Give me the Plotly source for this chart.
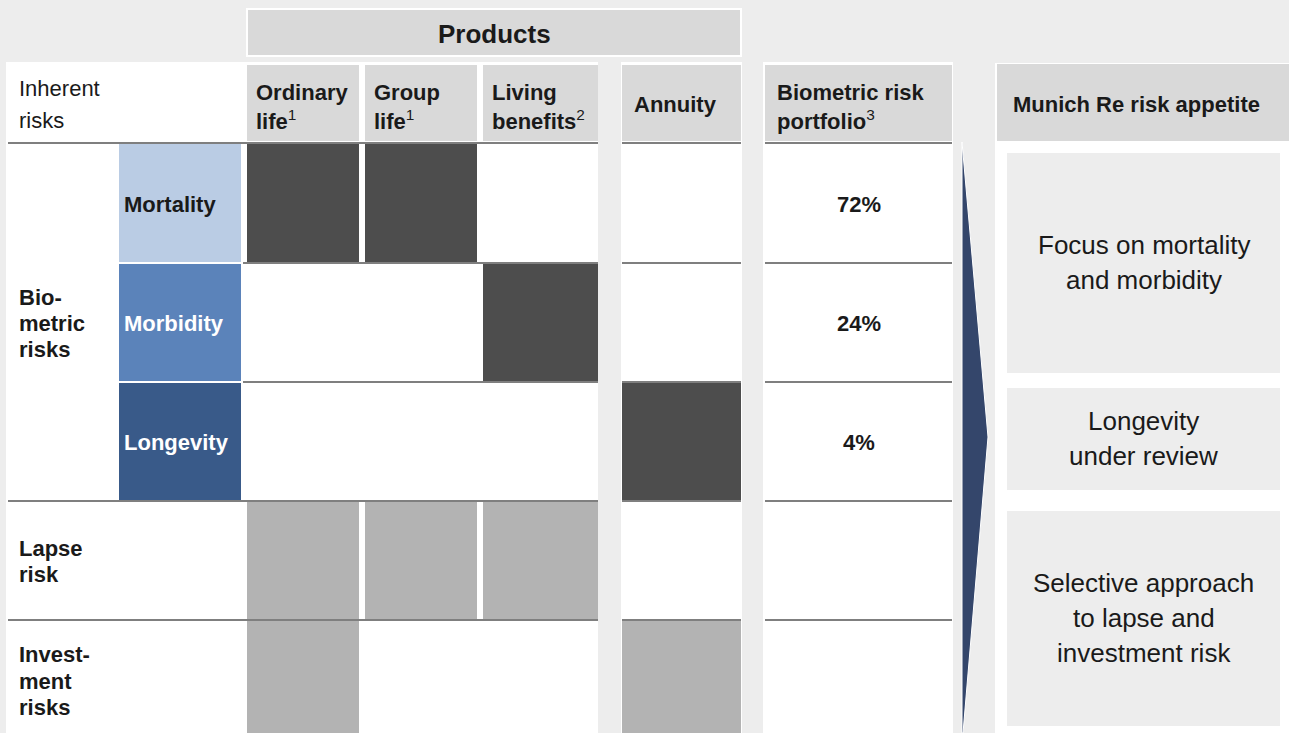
import plotly.graph_objects as go

W, H = 1289, 733

# ---------------- data ----------------
products = ["Ordinary life", "Group life", "Living benefits", "Annuity"]
product_header_lines = [["Ordinary", "life"], ["Group", "life"], ["Living", "benefits"], ["Annuity"]]
product_notes = ["1", "1", "2", ""]

risk_rows = ["Mortality", "Morbidity", "Longevity", "Lapse risk", "Investment risks"]
biometric_risks = ["Mortality", "Morbidity", "Longevity"]
# 2 = core exposure, 1 = secondary exposure, 0 = none
exposure_mortality = [2, 2, 0, 0]
exposure_morbidity = [0, 0, 2, 0]
exposure_longevity = [0, 0, 0, 2]
exposure_lapse = [1, 1, 1, 0]
exposure_investment = [1, 0, 0, 1]
exposure = [exposure_mortality, exposure_morbidity, exposure_longevity,
            exposure_lapse, exposure_investment]

portfolio_share = [72, 24, 4]  # % of biometric risk portfolio

appetite_texts = [
    ["Focus on mortality", "and morbidity"],
    ["Longevity", "under review"],
    ["Selective approach", "to lapse and", "investment risk"],
]

# ---------------- layout geometry ----------------
BG = "#EDEDED"
HEAD = "#D9D9D9"
DARK = "#4D4D4D"
LIGHT = "#B3B3B3"
RULE = "#7F7F7F"
TXT = "#1A1A1A"
FONT = "Liberation Sans, Arial, sans-serif"
risk_fill = ["#BACCE4", "#5B83BA", "#395A89"]
risk_text_col = [TXT, "white", "white"]

col_x = [(247, 359), (365, 477), (483, 598), (622, 741)]
row_y = [(143, 263), (263, 382), (382, 501), (501, 620), (620, 733)]
port_x = (765, 952)
app_x = (997, 1289)
sub_x = (119, 241)

shapes = []
annotations = []


def rect(x0, y0, x1, y1, fill, line=None, lw=0):
    shapes.append(dict(type="rect", xref="x", yref="y", x0=x0, x1=x1, y0=y0, y1=y1,
                       fillcolor=fill, line=dict(width=lw, color=line or fill)))


def hline(y, x0, x1, color=RULE, w=2):
    shapes.append(dict(type="line", xref="x", yref="y", x0=x0, x1=x1, y0=y, y1=y,
                       line=dict(color=color, width=w)))


def text(x, y, s, size=22, bold=False, color=TXT, anchor="left"):
    if bold:
        s = "<b>" + s + "</b>"
    annotations.append(dict(x=x, y=y, xref="x", yref="y", text=s, showarrow=False,
                            xanchor=anchor, yanchor="middle", borderpad=0,
                            font=dict(family=FONT, size=size, color=color)))


# white panels
rect(6, 62, 598, H, "white")
rect(621, 62, 742, H, "white")
rect(763, 62, 953, H, "white")
rect(995, 63, W, H, "white")

# "Products" banner
rect(247, 9, 741, 56, HEAD, "white", 2)
text(437, 34, "Products", size=26, bold=True)

# column headers
for (x0, x1) in col_x + [port_x]:
    rect(x0, 65, x1, 141, HEAD)
rect(app_x[0], 64, app_x[1], 141, HEAD)

text(18, 88, "Inherent")
text(18, 120, "risks")
for j, lines in enumerate(product_header_lines):
    x0, x1 = col_x[j]
    if len(lines) == 1:
        text(x0 + 11, 104, lines[0], bold=True)
    else:
        text(x0 + 8, 92, lines[0], bold=True)
        text(x0 + 8, 120, "<b>" + lines[1] + "</b><sup>" + product_notes[j] + "</sup>")
text(port_x[0] + 11, 92, "Biometric risk", bold=True)
text(port_x[0] + 11, 120, "<b>portfolio</b><sup>3</sup>")
text(1136, 104, "Munich Re risk appetite", bold=True, anchor="center")

# biometric sub-risk labels
for i, name in enumerate(biometric_risks):
    y0, y1 = row_y[i]
    rect(sub_x[0], y0 + 1, sub_x[1], y1 - 1, risk_fill[i], "white", 0)
    text(sub_x[0] + 4, (y0 + y1) / 2 + 1, name, bold=True, color=risk_text_col[i])

# exposure cells
for i, row in enumerate(exposure):
    y0, y1 = row_y[i]
    for j, v in enumerate(row):
        if v:
            x0, x1 = col_x[j]
            rect(x0, y0, x1, y1, DARK if v == 2 else LIGHT)

# horizontal rules
for k, (y0, _) in enumerate(row_y):
    start = 8 if k in (0, 3, 4) else 243
    hline(y0, start, 598)
    hline(y0, 622, 741)
    hline(y0, port_x[0], port_x[1])

# row group labels
text(18, 297, "Bio-", bold=True)
text(18, 323, "metric", bold=True)
text(18, 349, "risks", bold=True)
text(18, 548, "Lapse", bold=True)
text(18, 574, "risk", bold=True)
text(18, 654, "Invest-", bold=True)
text(18, 681, "ment", bold=True)
text(18, 707, "risks", bold=True)

# portfolio shares
for i, share in enumerate(portfolio_share):
    y0, y1 = row_y[i]
    text((port_x[0] + port_x[1]) / 2, (y0 + y1) / 2 + 1, f"{share}%", bold=True, anchor="center")

# arrow between table and risk appetite
shapes.append(dict(type="path", xref="x", yref="y",
                   path="M 962 142 L 988 437 L 963 733 L 962 733 Z",
                   fillcolor="#34466B", line=dict(color="white", width=1)))

# risk appetite boxes
app_boxes = [(153, 373), (388, 490), (511, 726)]
line_gap = 35
for (y0, y1), lines in zip(app_boxes, appetite_texts):
    rect(1007, y0, 1280, y1, BG)
    yc = (y0 + y1) / 2
    n = len(lines)
    for k, s in enumerate(lines):
        text(1143.5, yc + (k - (n - 1) / 2) * line_gap - 1, s, size=26, anchor="center")

fig = go.Figure(go.Scatter(x=[], y=[], hoverinfo="skip", showlegend=False))
fig.update_layout(
    width=W, height=H,
    margin=dict(l=0, r=0, t=0, b=0),
    paper_bgcolor=BG, plot_bgcolor=BG,
    xaxis=dict(range=[0, W], visible=False, fixedrange=True),
    yaxis=dict(range=[H, 0], visible=False, fixedrange=True),
    shapes=shapes, annotations=annotations,
    showlegend=False,
)
fig.write_html("out.html")
